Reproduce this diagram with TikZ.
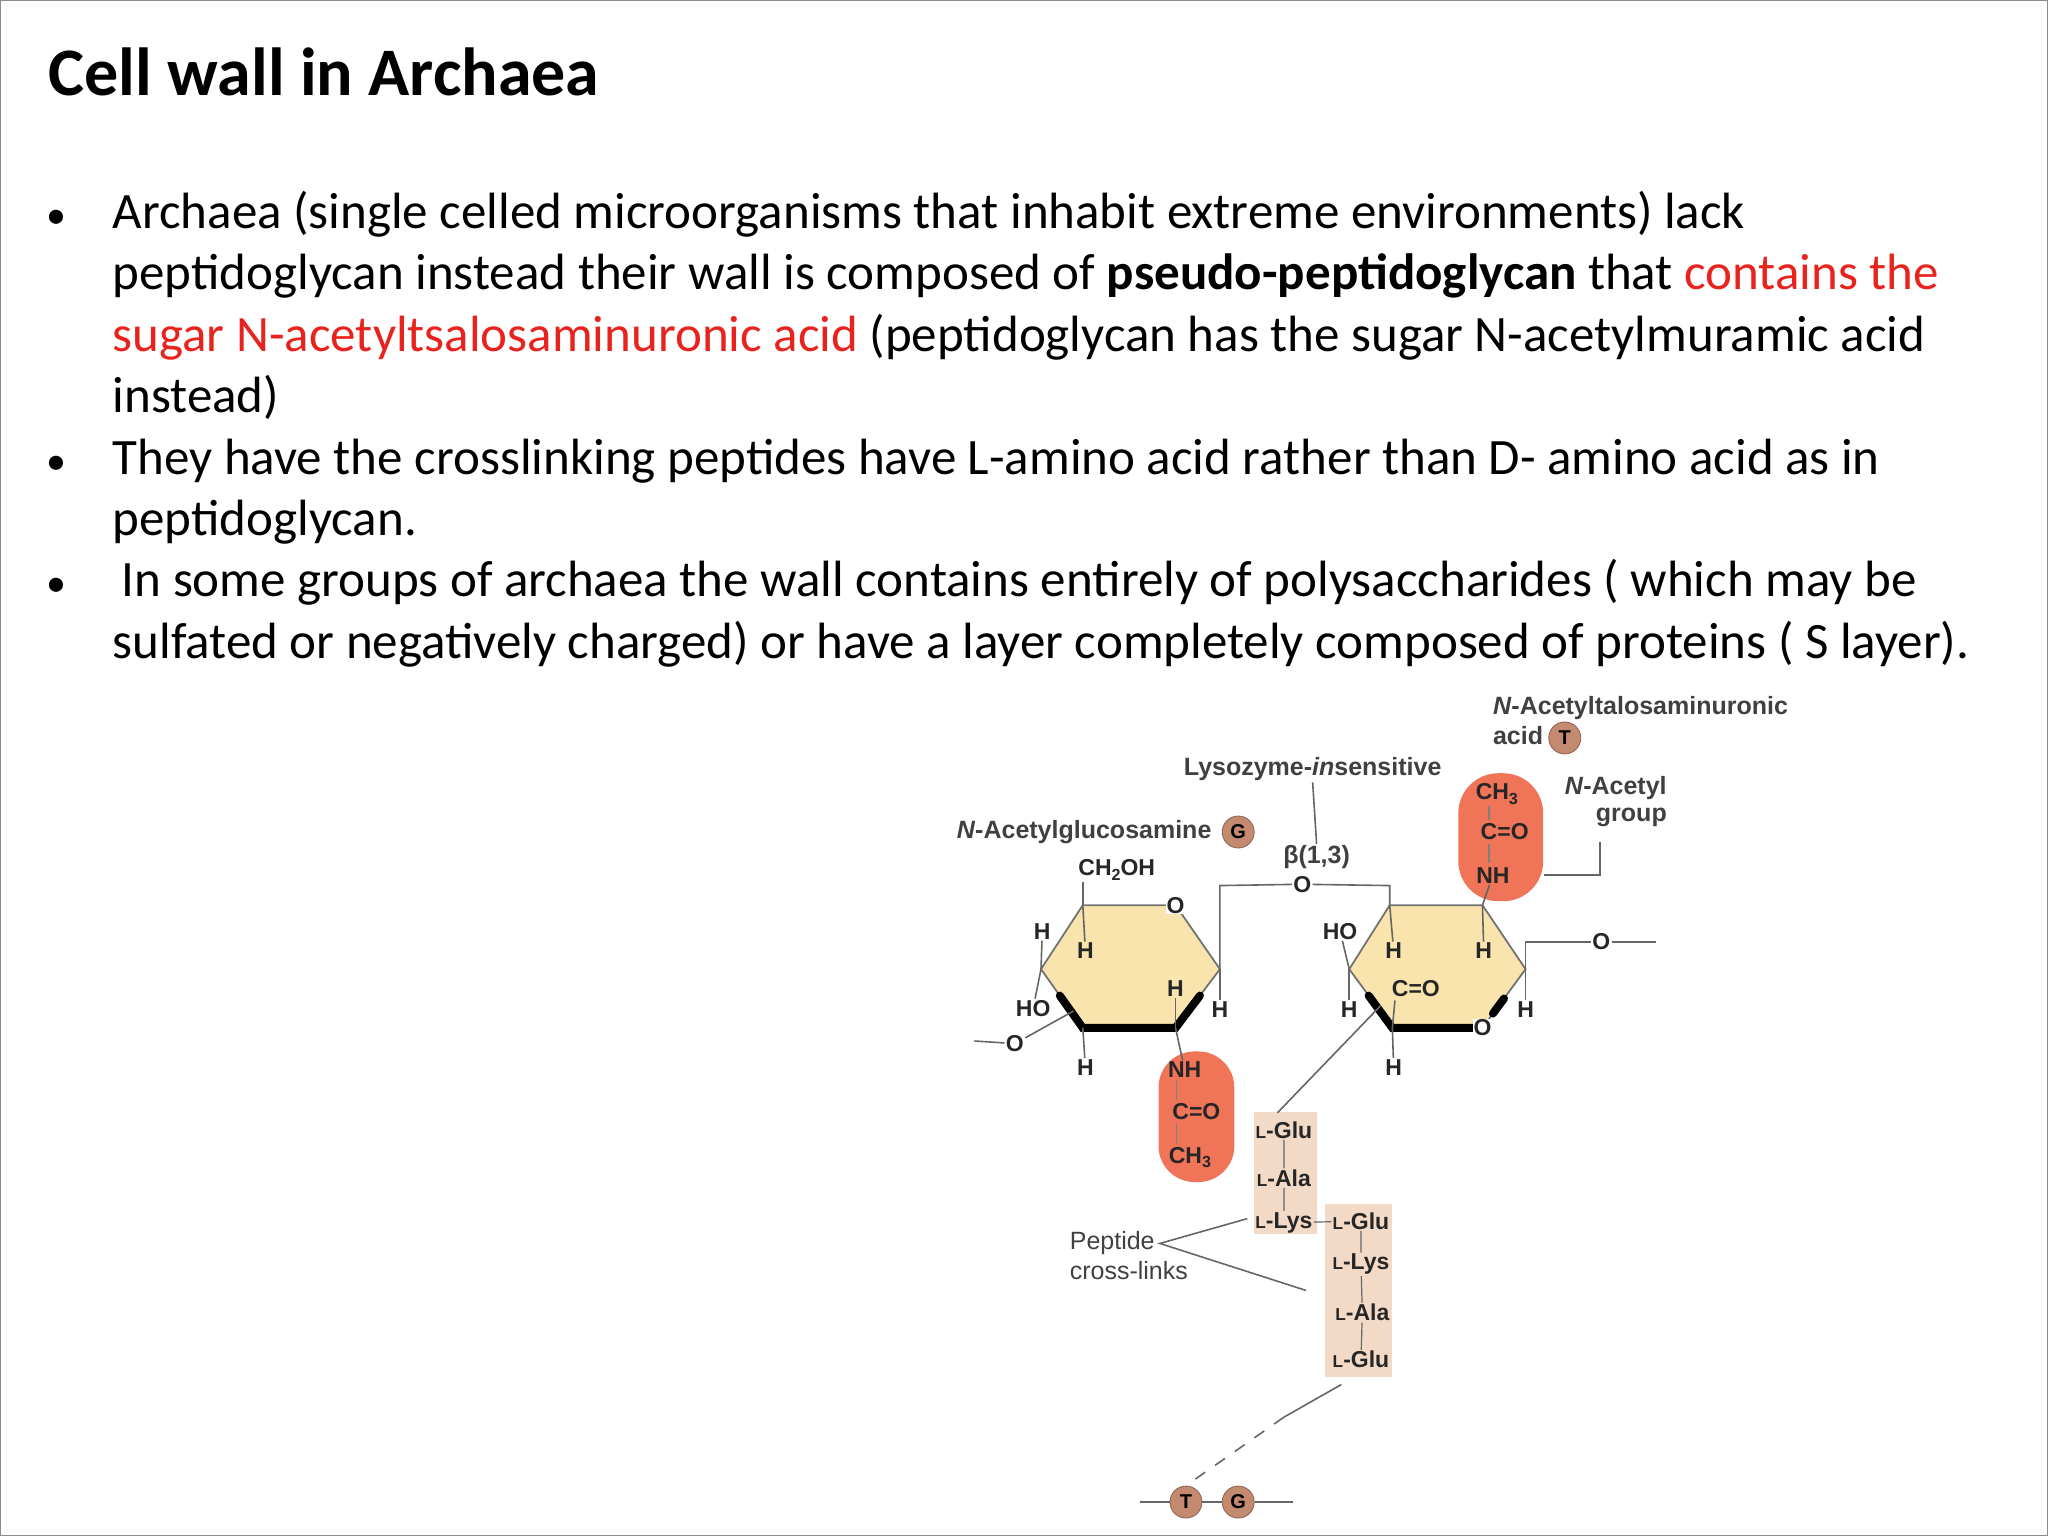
\documentclass[tikz,border=0pt]{standalone}
\usepackage{fontspec}
\usetikzlibrary{calc}
\setmainfont{Carlito}
\newfontfamily\dia{Liberation Sans}
\newcommand{\mysub}[1]{\raisebox{-0.35ex}{\scalebox{0.7}{#1}}}
\newcommand{\lsc}{\scalebox{0.75}{L}}
\definecolor{ringfill}{HTML}{F8E4AC}
\definecolor{pill}{HTML}{EF7458}
\definecolor{pep}{HTML}{F3DAC6}
\definecolor{circ}{HTML}{C48A70}
\definecolor{redtxt}{HTML}{E8231E}
\begin{document}
\begin{tikzpicture}[x=0.65306pt,y=-0.65306pt,
  body/.style={anchor=base west,inner sep=0pt,font=\fontsize{25.5}{30}\selectfont},
  bul/.style={anchor=base,inner sep=0pt,font=\fontsize{20}{24}\selectfont},
  lab/.style={inner sep=0.5pt,font=\dia\bfseries\fontsize{12.5}{14}\selectfont,text=black!75},
  atom/.style={inner sep=0.5pt,font=\dia\bfseries\fontsize{11.5}{13}\selectfont,text=black!85},
  bond/.style={draw=black!60,line width=0.8pt},
  ring/.style={draw=black!55,line width=0.9pt,fill=ringfill},
  heavy/.style={line width=4pt,line cap=round,draw=black},
  mono/.style={circle,inner sep=0pt,minimum size=16pt,fill=circ,draw=circ!70!black,font=\dia\bfseries\fontsize{10}{11}\selectfont}]
\useasboundingbox (0,0) rectangle (1568,1176);
\draw[black!45,line width=0.8pt] (0.5,0.5) rectangle (1567.5,1175.5);
\node[anchor=base west,inner sep=0pt,font=\fontsize{34}{40}\selectfont\bfseries] (title) at (37,73) {Cell wall in Archaea};
% bullets
\foreach \y/\n in {175/b1,363/b2,457/b3}{\node[bul] (\n) at (43,\y) {•};}
\node[body] (l1) at (86,175) {Archaea (single celled microorganisms that inhabit extreme environments) lack};
\node[body] (l2) at (86,222) {peptidoglycan instead their wall is composed of \textbf{pseudo-peptidoglycan} that \textcolor{redtxt}{contains the}};
\node[body] (l3) at (86,269) {\textcolor{redtxt}{sugar N-acetyltsalosaminuronic acid} (peptidoglycan has the sugar N-acetylmuramic acid};
\node[body] (l4) at (86,316) {instead)};
\node[body] (l5) at (86,363) {They have the crosslinking peptides have L-amino acid rather than D- amino acid as in};
\node[body] (l6) at (86,410) {peptidoglycan.};
\node[body] (l7) at (93,457) {In some groups of archaea the wall contains entirely of polysaccharides ( which may be};
\node[body] (l8) at (86,504) {sulfated or negatively charged) or have a layer completely composed of proteins ( S layer).};
% ---------- diagram ----------
\node[lab,anchor=west] (nat1) at (1142,542) {\textit{N}-Acetyltalosaminuronic};
\node[lab,anchor=west] (nat2) at (1142,563) {acid};
\node[mono] (Tt) at (1198,565) {T};
\node[lab] (lys) at (1005,589) {Lysozyme-\textit{in}sensitive};
\node[lab] (beta) at (1008,656) {β(1,3)};
\draw[bond] (lys.south) -- (beta.north);
\node[lab] (nag) at (830,637) {\textit{N}-Acetylglucosamine};
\node[mono] (Gt) at (948,637) {G};
% left ring
\coordinate (aTL) at (829,693); \coordinate (aO) at (900,693); \coordinate (aR) at (934,742);
\coordinate (aBR) at (900,787); \coordinate (aBL) at (829,787); \coordinate (aL) at (797,742);
\path[ring] (aTL) -- (aO) -- (aR) -- (aBR) -- (aBL) -- (aL) -- cycle;
\draw[heavy] ($(aL)!0.45!(aBL)$) -- (aBL) -- (aBR) -- ($(aBR)!0.55!(aR)$);
\node[atom,fill=white] (aOl) at (aO) {O};
\node[atom] (ch2oh) at (855,666) {CH\mysub{2}OH};
\draw[bond] (aTL) -- (829,675);
\node[atom] (h1) at (798,713) {H}; \draw[bond] (h1) -- (aL);
\node[atom] (h2) at (831,728) {H}; \draw[bond] (aTL) -- (h2);
\node[atom] (ho1) at (791,772) {HO}; \draw[bond] (aL) -- (ho1);
\node[atom] (o1) at (777,799) {O};
\coordinate (o1w) at (746,797); \draw[bond] (o1w) -- (o1);
\coordinate (o1r) at (822,774); \draw[bond] (o1) -- (o1r);
\node[atom] (h3) at (831,817) {H}; \draw[bond] (aBL) -- (h3);
\node[atom] (h4) at (900,757) {H}; \draw[bond] (h4) -- (aBR);
\node[atom] (h5) at (934,773) {H}; \draw[bond] (aR) -- (h5);
% left pill
\node[rounded corners=18pt,fill=pill,minimum width=58pt*0.65306,minimum height=100pt*0.65306,inner sep=0pt] (pillA) at (916,855) {};
\node[atom] (nh1) at (907,819) {NH};
\node[atom] (co1) at (916,851) {C{=}O};
\node[atom] (ch31) at (911,886) {CH\mysub{3}};
\draw[bond] (aBR) -- (nh1);
\draw[bond,black!50,line width=0.6pt] (901,828) -- (901,842) (901,860) -- (901,876);
% glycosidic bridge
\node[atom,fill=white] (obr) at (997,677) {O};
\draw[bond] (aR) -- (934,678) -- (obr) -- (1064,678) -- (1064,693);
% right ring
\coordinate (bTL) at (1064,693); \coordinate (bTR) at (1135,693); \coordinate (bR) at (1168,742);
\coordinate (bBR) at (1135,787); \coordinate (bBL) at (1066,787); \coordinate (bL) at (1033,742);
\path[ring] (bTL) -- (bTR) -- (bR) -- (bBR) -- (bBL) -- (bL) -- cycle;
\draw[heavy] ($(bL)!0.45!(bBL)$) -- (bBL) -- (bBR);
\draw[heavy] (1143,776) -- ($(bBR)!0.5!(bR)$);
\node[atom,fill=white] (bOl) at (bBR) {O};
\node[atom] (ho2) at (1026,713) {HO}; \draw[bond] (ho2) -- (bL);
\node[atom] (h6) at (1067,728) {H}; \draw[bond] (bTL) -- (h6);
\node[atom] (h7) at (1136,728) {H}; \draw[bond] (bTR) -- (h7);
\node[atom] (co2) at (1084,757) {C{=}O}; \draw[bond] (bBL) -- (1068,766);
\node[atom] (h8) at (1033,773) {H}; \draw[bond] (bL) -- (h8);
\node[atom] (h9) at (1067,817) {H}; \draw[bond] (bBL) -- (h9);
\node[atom] (h10) at (1168,773) {H}; \draw[bond] (bR) -- (h10);
\node[atom] (o3) at (1226,721) {O};
\draw[bond] (bR) -- (1168,721) -- (o3);
\coordinate (o3e) at (1268,721); \draw[bond] (o3) -- (o3e);
% right pill
\node[rounded corners=20pt,fill=pill,minimum width=65pt*0.65306,minimum height=98pt*0.65306,inner sep=0pt] (pillB) at (1149,641) {};
\node[atom] (ch32) at (1146,608) {CH\mysub{3}};
\node[atom] (co3) at (1152,637) {C{=}O};
\node[atom] (nh2) at (1143,670) {NH};
\draw[bond,black!50,line width=0.6pt] (1140,617) -- (1140,628) (1140,646) -- (1140,661);
\draw[bond] (nh2) -- (bTR);
\node[lab] (nac1) at (1237,603) {\textit{N}-Acetyl};
\node[lab] (nac2) at (1249,626) {group};
\draw[bond] (pillB.east |- nh2) -- (1225,670) -- (1225,645);
% peptides
\node[fill=pep,minimum width=48pt*0.65306,minimum height=93pt*0.65306,inner sep=0pt] (box1) at (984,898) {};
\node[fill=pep,minimum width=51pt*0.65306,minimum height=133pt*0.65306,inner sep=0pt] (box2) at (1040,988) {};
\node[atom] (g1) at (983,865) {\lsc-Glu};
\node[atom] (a1) at (983,902) {\lsc-Ala};
\node[atom] (k1) at (983,936) {\lsc-Lys};
\node[atom] (g2) at (1042,935) {\lsc-Glu};
\node[atom] (k2) at (1042,968) {\lsc-Lys};
\node[atom] (a2) at (1043,1005) {\lsc-Ala};
\node[atom] (g3) at (1042,1041) {\lsc-Glu};
\draw[bond,line width=0.6pt] (g1) -- (a1) (a1) -- (k1) (g2) -- (k2) (k2) -- (a2) (a2) -- (g3) (k1) -- (g2);
\draw[bond] (1057,770) -- (978,852);
\node[lab,anchor=west,font=\dia\fontsize{12.5}{14}\selectfont] (pep1) at (818,952) {Peptide};
\node[lab,anchor=west,font=\dia\fontsize{12.5}{14}\selectfont] (pep2) at (818,973) {cross-links};
\coordinate (px) at (888,952);
\draw[bond] (955,933) -- (px) -- (1000,988);
% bottom
\node[mono] (Tb) at (908,1150) {T};
\node[mono] (Gb) at (948,1150) {G};
\coordinate (bl) at (873,1150); \coordinate (br) at (990,1150);
\draw[bond] (bl) -- (Tb) (Tb) -- (Gb) (Gb) -- (br);
\coordinate (dm) at (983,1085);
\draw[bond] (1027,1060) -- (dm);
\draw[bond,dashed,dash pattern=on 6pt off 6pt] (dm) -- (Tb.north);
\end{tikzpicture}
\end{document}
